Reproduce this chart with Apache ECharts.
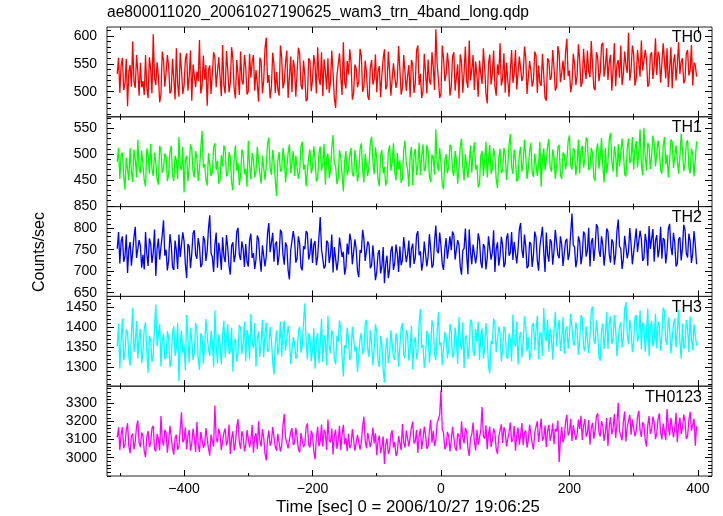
<!DOCTYPE html>
<html><head><meta charset="utf-8">
<script src="https://cdn.jsdelivr.net/npm/echarts@6/dist/echarts.min.js"></script>
<style>html,body{margin:0;padding:0;background:#fff}#c{width:723px;height:516px}</style>
</head><body><div id="c"></div>
<script>
// Sampling grid of the light curve (seconds from 2006/10/27 19:06:25)
const timeStart = -504, timeStep = 2;

const panelNames = ["TH0", "TH1", "TH2", "TH3", "TH0123"];
const panelColors = ["#ff0000", "#00ff00", "#0000ff", "#00ffff", "#ff00ff"];
const yMins = [455, 398.5, 641.5, 1254, 2899];
const yMaxs = [616.2, 572.2, 850, 1476, 3394];
const yMajor = [[500, 550, 600], [450, 500, 550], [650, 700, 750, 800, 850], [1300, 1350, 1400, 1450], [3000, 3100, 3200, 3300]];
const yMinorStep = [10, 10, 10, 10, 20];
const xTicksMajor = [-400, -200, 0, 200, 400];
const xTicksMinor = [-500, -300, -100, 100, 300];

const th0 = [
532,561,498,547,561,503,515,559,474,536,548,509,590,518,507,566,536,493,552,508,
519,494,566,507,489,562,541,497,603,524,512,553,528,481,495,572,557,509,534,566,
546,497,502,559,523,486,578,513,491,570,538,496,511,558,569,502,527,574,484,549,
551,508,536,519,593,497,509,565,522,548,475,539,547,496,533,571,562,508,505,562,
528,492,584,511,497,573,540,499,516,580,559,505,488,557,531,494,572,520,513,566,
544,495,501,568,525,553,566,502,539,514,482,561,554,497,520,578,597,516,530,488,
508,570,549,498,536,504,493,583,561,506,517,552,574,489,526,563,499,557,543,491,
535,579,568,512,504,556,529,483,487,560,555,501,521,566,546,497,580,524,512,571,
492,558,537,504,560,498,519,574,533,488,471,529,548,569,526,494,589,517,506,555,
531,576,552,486,497,549,542,508,518,577,565,500,509,556,534,492,485,543,557,513,
523,567,499,537,546,490,530,559,576,504,511,572,538,493,494,551,552,507,520,582,
541,495,507,566,563,502,528,548,490,557,549,498,515,574,583,512,532,489,501,568,
536,497,558,520,513,571,544,503,612,552,522,489,496,583,560,519,531,570,547,493,
509,563,571,502,526,549,488,567,553,498,535,581,518,507,592,520,540,566,503,554,
529,491,556,532,514,578,545,497,479,550,567,513,532,574,510,493,549,530,587,511,
524,569,498,552,554,491,537,575,516,533,575,504,505,563,542,519,529,581,561,496,
493,555,538,509,520,572,565,498,547,516,511,568,530,489,484,560,556,521,527,575,
543,502,509,582,569,517,534,556,521,571,595,528,538,499,514,568,550,512,529,585,
558,509,517,577,541,523,574,536,526,591,549,507,503,571,562,519,535,584,588,527,
545,578,521,552,566,502,539,587,510,549,557,525,583,512,531,572,548,534,606,520,
540,583,568,511,524,575,552,527,592,538,536,575,559,509,515,566,571,523,546,596,
530,572,563,516,518,587,555,524,578,508,541,580,506,553,567,520,549,589,532,554,
560,515,521,569,575,529,538,584,511,552,548,527];

const th1 = [
485,512,452,498,503,458,431,493,470,449,512,467,446,509,491,455,528,472,463,507,
478,449,437,511,499,462,520,471,458,503,484,451,441,516,507,464,472,501,495,448,
461,505,516,459,448,497,488,452,533,476,469,514,426,489,497,447,476,519,510,466,
455,506,492,448,470,511,545,474,481,452,439,502,503,458,465,513,521,469,487,443,
449,498,476,517,508,457,462,504,494,445,430,491,517,468,483,440,457,509,500,461,
472,437,526,478,451,502,489,455,467,514,511,462,443,497,496,450,478,521,532,474,
460,508,485,451,419,487,504,466,471,512,493,445,447,503,519,463,482,506,458,497,
497,452,466,515,524,470,480,438,436,494,509,463,474,515,490,447,452,501,515,468,
483,520,441,492,501,454,468,513,537,481,477,442,455,508,494,461,428,486,506,459,
470,499,512,461,457,508,486,447,463,510,521,470,445,501,499,458,479,522,534,487,
461,513,492,450,438,497,508,463,475,439,450,504,517,468,484,521,466,449,502,471,
488,444,453,509,526,482,471,437,496,514,440,498,510,459,478,522,459,496,519,467,
474,518,505,457,446,499,491,460,548,483,467,512,483,441,432,489,500,463,476,518,
513,467,458,506,489,443,472,515,530,476,449,500,497,454,481,517,464,502,523,470,
479,436,442,497,506,458,487,524,455,491,518,462,470,511,495,451,434,493,510,463,
468,512,501,450,476,518,539,475,462,509,490,447,451,500,514,466,483,528,497,452,
473,506,522,464,456,501,503,458,480,524,437,492,511,469,488,516,529,474,466,509,
494,452,475,513,518,460,452,503,499,471,486,525,536,478,470,512,507,459,481,528,
463,508,516,474,490,532,527,469,473,512,502,455,448,506,521,472,495,531,477,445,
512,463,485,528,541,487,466,515,498,456,519,476,479,530,505,461,457,511,530,482,
491,533,470,509,525,474,503,548,482,459,551,497,468,522,514,471,496,536,520,476,
478,526,509,469,462,515,533,480,499,455,487,528,524,473,471,517,515,462,493,540,
508,467,481,522,527,474,463,511,500,457,489,525];

const th2 = [
752,791,718,769,781,722,734,785,696,751,768,713,745,779,803,731,727,772,759,708,
738,704,791,740,712,776,764,719,743,797,689,752,776,727,731,784,818,736,750,702,
725,786,762,710,703,771,748,705,785,733,736,790,770,716,684,763,757,707,741,788,
795,738,729,777,758,709,716,781,772,724,747,799,830,742,733,698,761,790,708,766,
744,703,779,735,721,784,755,712,692,759,767,721,739,792,801,738,726,769,752,710,
763,722,711,772,787,731,742,705,728,783,774,729,699,760,756,711,735,789,812,744,
748,789,722,763,769,714,737,796,790,738,715,767,758,702,681,748,746,793,773,720,
730,781,764,709,702,758,751,793,788,727,741,776,719,762,770,714,734,779,826,751,
754,706,713,771,766,719,738,785,697,756,760,702,727,778,782,733,745,692,709,764,
739,787,771,716,720,774,752,701,686,749,743,796,775,724,728,769,761,707,714,760,
724,679,698,741,749,695,712,756,672,718,736,684,705,747,758,703,719,762,741,698,
757,714,726,779,780,721,739,771,708,752,764,717,731,784,793,737,746,701,721,769,
768,711,735,786,752,708,715,769,806,747,742,790,759,716,703,751,777,729,733,781,
749,792,784,727,724,772,761,710,692,748,753,799,738,693,797,744,716,762,765,718,
740,788,772,721,707,763,756,704,729,781,783,727,744,795,698,752,767,713,735,780,
760,709,719,776,788,736,743,791,726,768,771,718,750,797,812,749,731,785,757,707,
712,768,763,710,738,792,779,725,701,757,754,803,745,698,790,739,722,774,768,715,
747,796,795,738,730,781,762,712,716,770,775,726,741,789,834,761,756,709,727,781,
769,716,738,792,786,734,749,801,711,767,777,724,755,809,802,748,733,781,761,713,
744,799,792,739,720,774,766,715,739,793,820,758,752,705,728,782,781,730,746,800,
763,716,712,771,799,745,741,794,775,724,730,787,768,713,805,752,749,798,722,771,
784,732,751,803,729,777,772,718,745,798,810,756,737,789,766,711,718,774,779,725,
753,808,796,741,732,787,770,719,741,793,762,716];

const th3 = [
1352,1409,1298,1367,1421,1318,1336,1394,1387,1327,1305,1381,1448,1339,1361,1415,1322,1374,1395,1311,
1340,1396,1412,1335,1287,1379,1368,1314,1331,1402,1456,1353,1349,1408,1303,1366,1384,1321,1326,1390,
1373,1302,1318,1387,1402,1329,1345,1411,1267,1358,1391,1336,1357,1293,1430,1372,1312,1399,1366,1319,
1338,1410,1395,1323,1294,1385,1377,1309,1351,1420,1419,1344,1329,1391,1365,1301,1441,1356,1310,1382,
1356,1308,1383,1416,1325,1371,1407,1333,1342,1399,1290,1364,1371,1315,1337,1405,1398,1334,1359,1413,
1316,1393,1376,1321,1433,1364,1348,1410,1302,1372,1389,1327,1362,1418,1325,1384,1411,1339,1344,1401,
1370,1312,1283,1359,1392,1331,1355,1414,1327,1390,1416,1342,1339,1403,1378,1309,1306,1375,1362,1322,
1331,1389,1401,1337,1353,1412,1459,1366,1320,1385,1374,1316,1343,1397,1297,1368,1385,1311,1358,1421,
1314,1380,1369,1306,1428,1351,1336,1392,1381,1320,1308,1379,1364,1417,1395,1328,1278,1355,1347,1399,
1372,1318,1330,1401,1405,1340,1352,1289,1292,1371,1386,1333,1341,1409,1418,1347,1326,1392,1360,1305,
1345,1407,1389,1316,1301,1378,1357,1294,1263,1343,1374,1311,1333,1392,1396,1326,1319,1385,1368,1302,
1352,1398,1410,1331,1324,1393,1381,1317,1343,1404,1296,1362,1375,1320,1338,1411,1445,1349,1356,1300,
1327,1391,1383,1312,1349,1417,1402,1334,1318,1386,1437,1355,1361,1306,1310,1388,1378,1323,1345,1408,
1391,1325,1334,1399,1367,1309,1425,1362,1344,1412,1299,1375,1380,1321,1353,1419,1413,1340,1329,1396,
1363,1414,1318,1379,1397,1322,1348,1410,1374,1303,1286,1366,1359,1421,1406,1338,1337,1401,1385,1315,
1344,1402,1392,1327,1322,1384,1370,1316,1431,1365,1351,1414,1307,1373,1388,1325,1362,1427,1401,1340,
1376,1318,1335,1404,1410,1343,1393,1428,1320,1387,1381,1329,1447,1376,1365,1419,1339,1396,1376,1320,
1389,1438,1352,1397,1418,1341,1371,1425,1334,1392,1402,1347,1379,1433,1436,1360,1355,1412,1394,1332,
1367,1429,1423,1351,1340,1402,1398,1336,1375,1440,1451,1368,1358,1417,1386,1325,1317,1392,1409,1346,
1381,1437,1346,1409,1427,1359,1368,1430,1395,1328,1332,1403,1412,1349,1374,1445,1462,1383,1357,1418,
1392,1338,1361,1425,1430,1364,1377,1441,1345,1411,1405,1339,1383,1446,1328,1397,1416,1352,1370,1433,
1348,1414,1403,1342,1379,1448,1440,1367,1356,1424,1397,1335,1335,1408,1421,1350,1387,1443,1364,1322,
1409,1347,1352,1418,1395,1338,1426,1369,1343,1407,1381,1354];

const th0123 = [
3112,3167,3041,3128,3168,3052,3075,3149,3190,3063,3024,3118,3133,3046,3089,3172,3205,3081,3058,3139,
3120,3036,3002,3115,3147,3059,3083,3162,3176,3048,3035,3131,3104,3040,3229,3097,3066,3154,3138,3027,
3091,3176,3183,3052,3017,3109,3126,3043,3064,3155,3250,3085,3098,3167,3045,3123,3152,3038,3079,3160,
3107,3031,3196,3073,3031,3142,3140,3055,3072,3163,3173,3050,3011,3127,3118,3061,3288,3104,3085,3159,
3129,3042,3053,3138,3161,3067,3094,3183,3020,3108,3145,3039,3080,3171,3212,3084,3049,3146,3116,3035,
3071,3152,3158,3057,3096,3180,3027,3114,3135,3048,3201,3094,3062,3157,3111,3024,2985,3102,3149,3066,
3088,3169,3174,3060,3039,3132,3124,3034,3067,3178,3240,3110,3101,3051,3046,3141,3163,3070,3082,3165,
3115,3047,3029,3136,3142,3058,3076,3168,3189,3071,3056,3148,3127,3034,2990,3110,3170,3063,3093,3182,
3061,3154,3137,3043,3210,3097,3084,3161,3018,3123,3154,3049,3099,3175,3042,3128,3181,3074,3108,3036,
3131,3052,3070,3158,3165,3038,3033,3126,3119,3044,3086,3173,3226,3091,3052,3137,3143,3058,3097,3166,
3078,3134,3013,3092,3122,3025,3059,3117,2965,3073,3106,3020,3044,3128,3151,3056,3087,3009,3030,3119,
3114,3041,3186,3083,3055,3149,3139,3062,3072,3167,3198,3078,3091,3154,3026,3120,3159,3047,3103,3172,
3125,3049,3062,3150,3208,3083,3148,3064,3097,3189,3185,3236,3372,3158,3136,3047,3060,3142,3121,3035,
3094,3170,3163,3056,3038,3135,3117,3044,3201,3112,3079,3164,3142,3051,3010,3108,3128,3193,3088,3040,
3153,3071,3066,3150,3279,3119,3105,3178,3047,3130,3171,3060,3095,3162,3134,3048,3021,3116,3112,3184,
3081,3168,3146,3062,3057,3141,3193,3087,3102,3174,3039,3125,3166,3072,3124,3191,3069,3138,3150,3055,
3098,3182,3173,3079,3045,3139,3132,3201,3087,3152,3216,3094,3110,3177,3058,3146,3181,3093,3126,3189,
3074,3159,3144,3205,2975,3101,3169,3084,3113,3198,3236,3122,3140,3214,3092,3178,3187,3098,3128,3210,
3158,3231,3097,3176,3213,3116,3134,3207,3071,3163,3192,3105,3149,3228,3245,3136,3117,3201,3176,3092,
3140,3219,3065,3170,3224,3128,3163,3240,3108,3186,3302,3147,3152,3095,3199,3254,3090,3168,3171,3237,
3127,3210,3207,3118,3146,3223,3258,3150,3114,3195,3183,3099,3061,3178,3229,3131,3155,3226,3194,3102,
3136,3212,3244,3141,3101,3188,3178,3096,3268,3172,3123,3219,3209,3112,3158,3247,3085,3177,3221,3130,
3162,3238,3197,3103,3119,3206,3253,3149,3142,3215,3066,3174];

const seriesValues = [th0, th1, th2, th3, th0123];

const FONT = "'Liberation Sans', Arial, Helvetica, sans-serif";
const xMin = -520, xMax = 422;
const gridLeft = 107, gridRight = 11, gridTop0 = 27, panelH = 89.8;

function minus(v) { return String(v).replace('-', '\u2212'); }
function plain(v) { return String(v); }
function minorVals(i) {
  const out = [], s = yMinorStep[i];
  for (let v = Math.ceil(yMins[i] / s) * s; v <= yMaxs[i]; v += s) {
    if (yMajor[i].indexOf(v) < 0) out.push(v);
  }
  return out;
}

const grids = [], xAxes = [], yAxes = [], series = [], graphics = [];
for (let i = 0; i < 5; i++) {
  grids.push({ left: gridLeft, right: gridRight, top: gridTop0 + panelH * i, height: panelH,
    show: true, borderColor: '#222', borderWidth: 1, backgroundColor: 'transparent', containLabel: false });
  const xs = [
    { pos: 'bottom', vals: xTicksMajor, len: 6, label: i === 4 },
    { pos: 'bottom', vals: xTicksMinor, len: 3, label: false },
    { pos: 'top', vals: xTicksMajor, len: 6, label: false },
    { pos: 'top', vals: xTicksMinor, len: 3, label: false }
  ];
  xs.forEach(a => xAxes.push({
    type: 'value', gridIndex: i, min: xMin, max: xMax, position: a.pos,
    axisLine: { show: false, onZero: false }, splitLine: { show: false },
    axisTick: { show: true, inside: true, length: a.len, customValues: a.vals, lineStyle: { color: '#000', width: 1 } },
    axisLabel: { show: a.label, customValues: a.vals, formatter: minus, margin: 6,
      fontFamily: FONT, fontSize: 14, color: '#000' }
  }));
  const ys = [
    { pos: 'left', vals: yMajor[i], len: 7, label: true },
    { pos: 'left', vals: minorVals(i), len: 4, label: false },
    { pos: 'right', vals: yMajor[i], len: 7, label: false },
    { pos: 'right', vals: minorVals(i), len: 4, label: false }
  ];
  ys.forEach(a => yAxes.push({
    type: 'value', gridIndex: i, min: yMins[i], max: yMaxs[i], position: a.pos,
    axisLine: { show: false, onZero: false }, splitLine: { show: false },
    axisTick: { show: true, inside: true, length: a.len, customValues: a.vals, lineStyle: { color: '#000', width: 1 } },
    axisLabel: { show: a.label, customValues: a.vals, formatter: plain, margin: 10,
      fontFamily: FONT, fontSize: 14, color: '#000' }
  }));
  const vals = seriesValues[i];
  series.push({
    type: 'line', name: panelNames[i], xAxisIndex: 4 * i, yAxisIndex: 4 * i,
    data: vals.map((v, k) => [timeStart + timeStep * k, v]),
    showSymbol: false, symbol: 'none', animation: false,
    lineStyle: { color: panelColors[i], width: 1.3 }, itemStyle: { color: panelColors[i] },
    z: 1
  });
  graphics.push({ type: 'text', right: 21, top: gridTop0 + panelH * i + 3,
    style: { text: panelNames[i], font: '16px ' + FONT, fill: '#000' }, z: 10 });
}

graphics.push({ type: 'text', left: 107, top: 5,
  style: { text: 'ae800011020_20061027190625_wam3_trn_4band_long.qdp', font: '15.6px ' + FONT, fill: '#000' } });
graphics.push({ type: 'text', x: 40, y: 252, rotation: Math.PI / 2,
  style: { text: 'Counts/sec', font: '16px ' + FONT, fill: '#000', align: 'center', verticalAlign: 'middle' } });
graphics.push({ type: 'text', x: 408, y: 507,
  style: { text: 'Time [sec] 0 = 2006/10/27 19:06:25', font: '16.8px ' + FONT, fill: '#000', align: 'center', verticalAlign: 'middle' } });

const chart = echarts.init(document.getElementById('c'), null, { renderer: 'canvas' });
chart.setOption({
  animation: false,
  backgroundColor: '#fff',
  grid: grids, xAxis: xAxes, yAxis: yAxes, series: series, graphic: graphics
});
</script></body></html>
